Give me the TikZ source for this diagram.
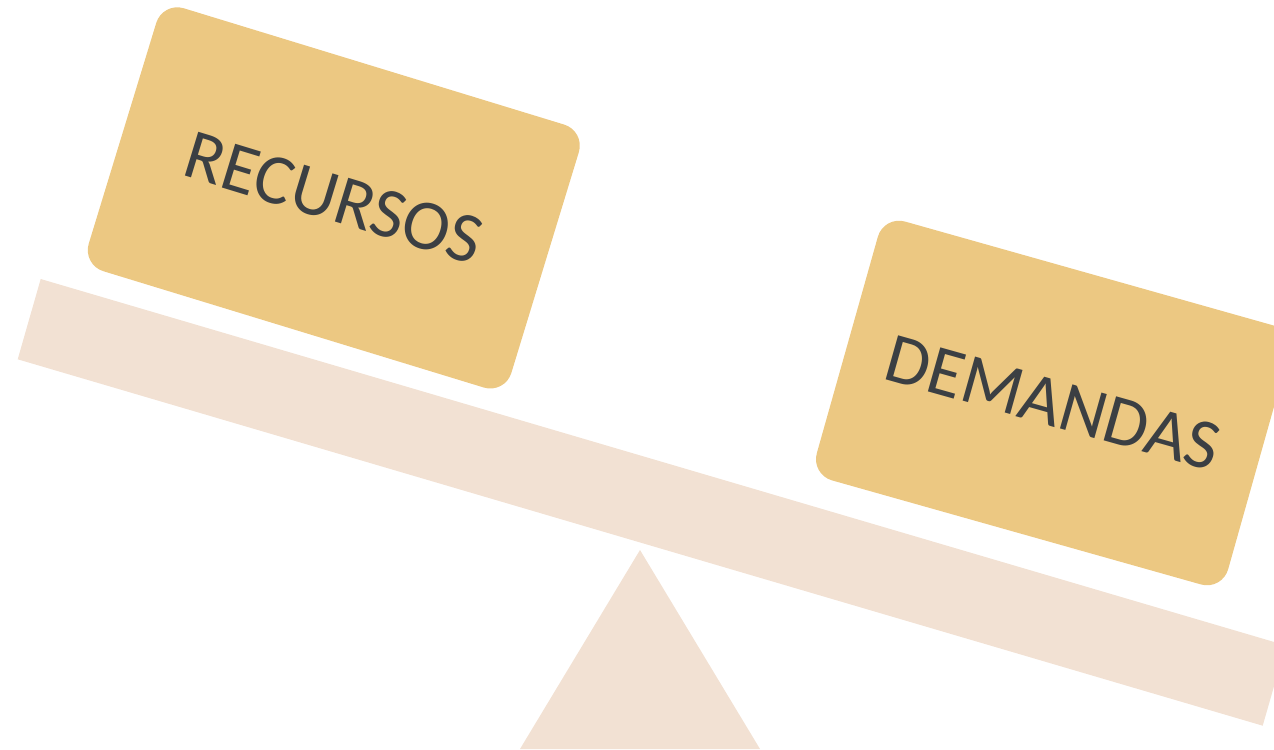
\documentclass[tikz,border=0pt]{standalone}
\usepackage{fontspec}
\setmainfont{Carlito}
\usepackage{tikz}
\usetikzlibrary{shapes,positioning}
\definecolor{beige}{HTML}{F2E1D3}
\definecolor{dorado}{HTML}{ECC882}
\definecolor{gris}{HTML}{3B3F43}
\tikzstyle{tabla} = [fill=beige]
\tikzstyle{caja} = [fill=dorado, rectangle, rounded corners=0.44cm, text=gris, font=\fontsize{40.6}{48}\selectfont]

\begin{document}
\begin{tikzpicture}[x=0.02cm,y=-0.02cm]
	\useasboundingbox (0,0) rectangle (1274,750);
	\clip (0,0) rectangle (1274,750);
	% tabla y soporte
	\fill[tabla] (40.7,279) -- (1285.7,645.4) -- (1262.7,725.7) -- (17.7,359.3) -- cycle;
	\fill[tabla] (640,550) -- (760,749) -- (520,749) -- cycle;
	% cajas
	\node[caja, rotate=-17, minimum width=8.84cm, minimum height=5.5cm] (recursos) at (333.8,197.9) {RECURSOS};
	\node[caja, rotate=-15.75, minimum width=8.55cm, minimum height=5.38cm] (demandas) at (1053,403) {DEMANDAS};
\end{tikzpicture}
\end{document}
